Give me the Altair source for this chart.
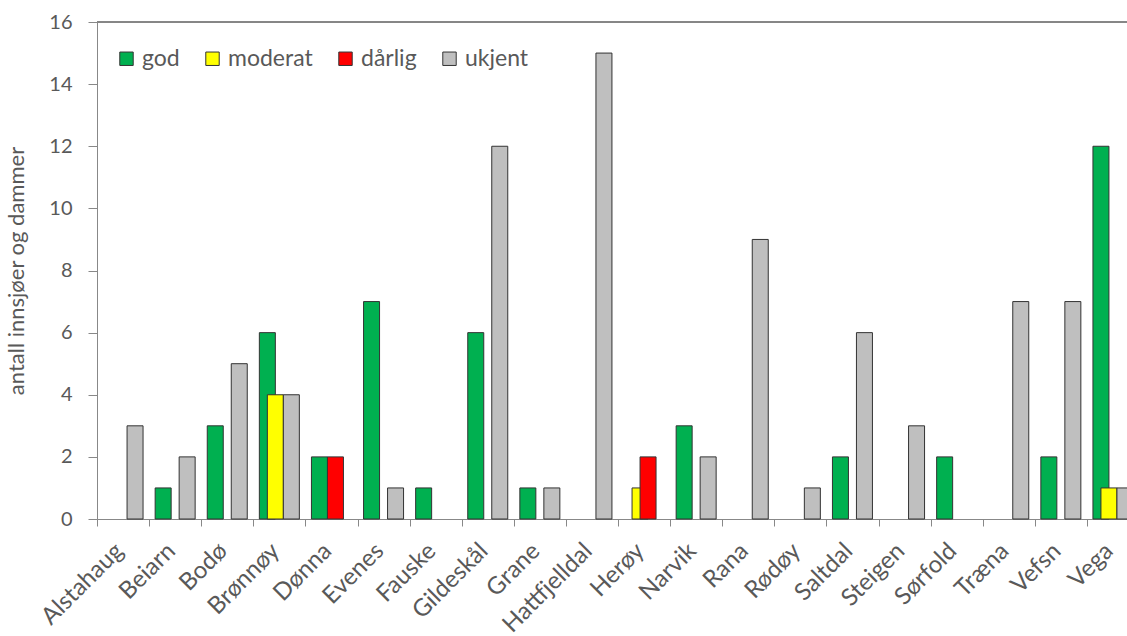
import altair as alt
import pandas as pd

# Municipalities and number of lakes/ponds per condition class
kommuner = ["Alstahaug", "Beiarn", "Bodø", "Brønnøy", "Dønna", "Evenes", "Fauske",
            "Gildeskål", "Grane", "Hattfjelldal", "Herøy", "Narvik", "Rana", "Rødøy",
            "Saltdal", "Steigen", "Sørfold", "Træna", "Vefsn", "Vega"]
god = [0, 1, 3, 6, 2, 7, 1, 6, 1, 0, 0, 3, 0, 0, 2, 0, 2, 0, 2, 12]
moderat = [0, 0, 0, 4, 0, 0, 0, 0, 0, 0, 1, 0, 0, 0, 0, 0, 0, 0, 0, 1]
darlig = [0, 0, 0, 0, 2, 0, 0, 0, 0, 0, 2, 0, 0, 0, 0, 0, 0, 0, 0, 0]
ukjent = [3, 2, 5, 4, 0, 1, 0, 12, 1, 15, 0, 2, 9, 1, 6, 3, 0, 7, 7, 1]

klasser = ["god", "moderat", "dårlig", "ukjent"]
farger = ["#00B050", "#FFFF00", "#FF0000", "#BFBFBF"]
serier = {"god": god, "moderat": moderat, "dårlig": darlig, "ukjent": ukjent}

rows = []
for klasse, verdier in serier.items():
    for k, v in zip(kommuner, verdier):
        rows.append({"kommune": k, "tilstand": klasse, "antall": v})
df = pd.DataFrame(rows)

FONT = "Lato"
GREY_TXT = "#595959"
GREY_LINE = "#868686"

BAND = 52.1
x_enc = alt.X(
    "kommune:N",
    sort=kommuner,
    scale=alt.Scale(range=[0, BAND * len(kommuner)], paddingInner=0, paddingOuter=0),
    axis=alt.Axis(
        title=None, labelAngle=-45, labelAlign="right", labelBaseline="middle",
        labelFontSize=24, labelPadding=21, labelOffset=-4, tickBand="extent",
        tickSize=7, labelFont=FONT, labelColor=GREY_TXT,
    ),
)
y_enc = alt.Y(
    "antall:Q",
    scale=alt.Scale(domain=[0, 16], nice=False),
    axis=alt.Axis(
        title="antall innsjøer og dammer", values=list(range(0, 17, 2)),
        labelFontSize=20, labelPadding=16, tickSize=9, titleFontSize=22,
        titleFontWeight="normal", titlePadding=20, labelFont=FONT, titleFont=FONT,
        labelColor=GREY_TXT, titleColor=GREY_TXT,
    ),
)
color_enc = alt.Color(
    "tilstand:N",
    scale=alt.Scale(domain=klasser, range=farger),
    legend=alt.Legend(
        title=None, orient="none", legendX=18, legendY=25, direction="horizontal",
        columns=4, symbolType="square", symbolSize=180, symbolStrokeColor="#333333",
        symbolStrokeWidth=1, labelFontSize=23, labelFont=FONT, labelColor=GREY_TXT,
        labelOffset=4, columnPadding=21,
    ),
)

base = alt.Chart(df).encode(x=x_enc, y=y_enc, color=color_enc)

# Overlapping bars: each class shifted 8 px from the previous one
offsets = [-12, -4, 4, 12]
layers = []
for klasse, off in zip(klasser, offsets):
    layers.append(
        base.transform_filter(
            (alt.datum.tilstand == klasse) & (alt.datum.antall > 0)
        ).mark_bar(size=16, xOffset=off, stroke="#333333", strokeWidth=1)
    )

top_line = alt.Chart(df).mark_rule(color=GREY_LINE, strokeWidth=1).encode(
    y=alt.datum(16)
)

chart = alt.layer(top_line, *layers).properties(
    width=1030,
    height=497,
    autosize=alt.AutoSizeParams(type="none"),
    padding={"left": 97, "top": 22, "right": 0, "bottom": 117},
).configure_view(stroke=None).configure_axis(
    domainColor=GREY_LINE, tickColor=GREY_LINE, grid=False
).configure(background="white")

chart.save("out.html", embed_options={"renderer": "svg", "actions": False})
